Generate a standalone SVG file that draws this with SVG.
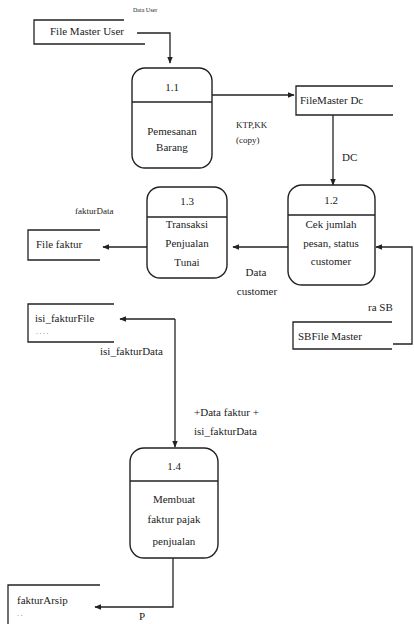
<svg xmlns="http://www.w3.org/2000/svg" width="414" height="624" viewBox="0 0 414 624">
<style>
.bg{fill:#fff}
.ln{fill:none;stroke:#222;stroke-width:1.3}
.pr{fill:#fff;stroke:#222;stroke-width:1.4}
.t{font-family:'Liberation Serif','Times New Roman','DejaVu Serif',serif;font-size:11px;fill:#222}
.s{font-family:'Liberation Serif','Times New Roman','DejaVu Serif',serif;font-size:6px;fill:#222}
.c{text-anchor:middle}
</style>
<defs>
<marker id="ar" viewBox="0 0 10 10" refX="9" refY="5" markerWidth="7" markerHeight="7" orient="auto" markerUnits="userSpaceOnUse">
<path d="M0,1 L10,5 L0,9 Z" fill="#222"/>
</marker>
</defs>
<rect class="bg" x="0" y="0" width="414" height="624"/>
<g id="connectors">
<path class="ln" d="M137,33 H170 V63" marker-end="url(#ar)"/>
<path class="ln" d="M212,95 H294" marker-end="url(#ar)"/>
<path class="ln" d="M333,115 V185" marker-end="url(#ar)"/>
<path class="ln" d="M288,247 H233" marker-end="url(#ar)"/>
<path class="ln" d="M147,247 H103" marker-end="url(#ar)"/>
<path class="ln" d="M393,344 H412 V247 H376" marker-end="url(#ar)"/>
<path class="ln" d="M175,319 H120" marker-end="url(#ar)"/>
<path class="ln" d="M175,319 V447" marker-end="url(#ar)"/>
<path class="ln" d="M173,558 V607 H95" marker-end="url(#ar)"/>
</g>
<g id="labels">
<text class="s" x="133" y="12">Data User</text>
<text class="t" x="236" y="128" style="font-size:9px">KTP,KK</text>
<text class="t" x="236" y="143" style="font-size:9px">(copy)</text>
<text class="t" x="342" y="161">DC</text>
<text class="t c" x="256" y="276">Data</text>
<text class="t c" x="257" y="295">customer</text>
<text class="t" x="368" y="311">ra SB</text>
<text class="t" x="75" y="214" style="font-size:9px">fakturData</text>
<text class="t" x="100" y="355">isi_fakturData</text>
<text class="t" x="194" y="416">+Data faktur +</text>
<text class="t" x="194" y="435">isi_fakturData</text>
<text class="t" x="139" y="620">P</text>
</g>
<g id="store-user">
<path class="ln" d="M124,20 H34 V44 H145"/>
<text class="t" x="50" y="35">File Master User</text>
</g>
<g id="store-dc">
<path class="ln" d="M393,86 H296 V115 H393"/>
<text class="t" x="300" y="104">FileMaster Dc</text>
</g>
<g id="store-sb">
<path class="ln" d="M392,322 H293 V349 H392"/>
<text class="t" x="298" y="340">SBFile Master</text>
</g>
<g id="store-faktur">
<path class="ln" d="M100,230 H28 V260 H100"/>
<text class="t" x="36" y="248">File faktur</text>
</g>
<g id="store-isi">
<path class="ln" d="M114,304 H28 V342 H114"/>
<text class="t" x="35" y="322">isi_fakturFile</text>
<text class="s" x="36" y="336">· · · ·</text>
</g>
<g id="store-arsip">
<path class="ln" d="M100,585 H8 V624"/>
<text class="t" x="17" y="604">fakturArsip</text>
<text class="s" x="17" y="618">· ·</text>
</g>
<g id="p11">
<rect class="pr" x="132" y="68" width="80" height="100" rx="13"/>
<line class="ln" x1="132" y1="102" x2="212" y2="102"/>
<text class="t c" x="172" y="91">1.1</text>
<text class="t c" x="172" y="135">Pemesanan</text>
<text class="t c" x="172" y="151">Barang</text>
</g>
<g id="p12">
<rect class="pr" x="288" y="185" width="87" height="100" rx="14"/>
<line class="ln" x1="288" y1="215" x2="375" y2="215"/>
<text class="t c" x="331" y="204">1.2</text>
<text class="t c" x="331" y="228">Cek jumlah</text>
<text class="t c" x="331" y="247">pesan, status</text>
<text class="t c" x="331" y="265">customer</text>
</g>
<g id="p13">
<rect class="pr" x="147" y="187" width="80" height="91" rx="13"/>
<line class="ln" x1="147" y1="217" x2="227" y2="217"/>
<text class="t c" x="187" y="205">1.3</text>
<text class="t c" x="187" y="228">Transaksi</text>
<text class="t c" x="187" y="247">Penjualan</text>
<text class="t c" x="187" y="266">Tunai</text>
</g>
<g id="p14">
<rect class="pr" x="130" y="448" width="88" height="110" rx="14"/>
<line class="ln" x1="130" y1="481" x2="218" y2="481"/>
<text class="t c" x="174" y="470">1.4</text>
<text class="t c" x="174" y="503">Membuat</text>
<text class="t c" x="174" y="523">faktur pajak</text>
<text class="t c" x="174" y="545">penjualan</text>
</g>
</svg>
